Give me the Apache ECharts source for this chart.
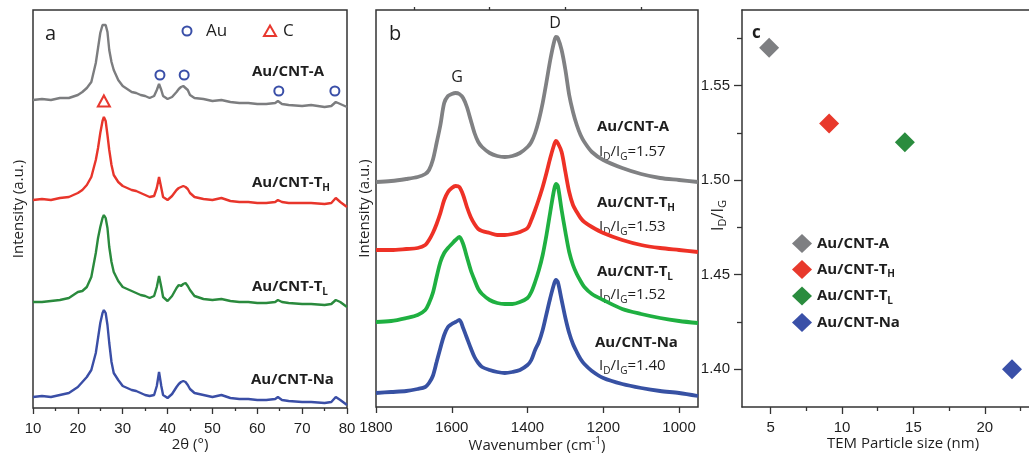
<!DOCTYPE html>
<html><head><meta charset="utf-8">
<script src="https://cdn.jsdelivr.net/npm/echarts@6/dist/echarts.min.js"></script>
<style>html,body{margin:0;padding:0;background:#fff;overflow:hidden}#c{width:1029px;height:456px}</style>
</head><body><div id="c"></div>
<script>
// ---------- data ----------
const sampleNames = ['Au/CNT-A', 'Au/CNT-TH', 'Au/CNT-TL', 'Au/CNT-Na'];
const sampleColorsXrd = ['#7c7d7f', '#e8352b', '#2a8a3d', '#3a4ea6'];
const sampleColorsRaman = ['#808183', '#ee3126', '#1fb041', '#3751a3'];
const sampleColorsScatter = ['#7e7f82', '#e8392c', '#2a8c3e', '#3a50a8'];

// panel a: XRD (2theta, offset intensities)
const xrdTheta = [10,12,14,16,18,20,21,22,23,24,24.5,25,25.5,25.8,26.2,26.6,27,27.5,28,29,30,31,32,33,34,35,36,37,37.6,38.1,38.6,39,40,41,42,42.5,43,43.5,44,44.5,45,46,48,50,52,54,56,58,60,62,64,64.6,65.5,67,70,72,75,76.5,77.5,78.5,80];
const xrdA  = [308,309,308,310,310,313,316,320,326,345,360,375,383,385,383,376,358,346,338,328,322,319,316,315,313,312,310,312,318,324,318,312,309,311,316,319,321,322,320,318,313,310,309,307,308,306,305,305,304,304,305,307,304,303,302,303,301,302,306,304,301];
const xrdTH = [208,209,208,210,211,215,218,223,231,248,260,275,287,291,287,273,258,243,233,226,222,220,218,217,215,213,211,212,220,231,220,211,208,212,218,220,221,222,221,219,215,211,209,208,210,207,206,206,205,205,206,208,206,205,205,205,204,205,210,206,201];
const xrdTL = [106,106,107,108,110,116,117,121,131,155,170,181,190,193,190,180,161,146,136,127,121,119,117,115,113,112,110,112,121,132,121,111,107,112,120,123,122,124,125,122,118,112,109,108,109,107,106,106,105,105,106,108,106,105,104,104,103,104,108,106,101];
const xrdNa = [11,12,11,13,15,21,26,31,38,55,70,85,95,98,95,83,65,46,35,28,22,20,18,17,15,13,12,13,22,36,22,13,10,14,21,24,26,27,26,23,19,15,13,11,13,10,9,9,8,8,9,11,8,7,6,6,5,6,11,8,3];
const auPeakTheta = [38.3, 43.7, 64.8, 77.3];
const auPeakMark = [333, 333, 317, 317];
const cPeakTheta = [25.8];
const cPeakMark = [307];

// panel b: Raman (wavenumber, offset intensities)
const ramanWn = [1800,1760,1720,1690,1670,1660,1650,1640,1630,1620,1610,1600,1590,1580,1570,1560,1550,1540,1530,1520,1500,1480,1460,1440,1420,1400,1390,1380,1370,1360,1350,1340,1330,1325,1320,1310,1300,1290,1280,1270,1260,1250,1230,1200,1150,1100,1050,1000,950];
const ramanA  = [225,226,228,230,233,237,247,264,282,304,311,313,314,313,309,300,287,274,265,260,254,251,250,251,254,260,265,274,287,304,325,347,365,370,369,357,337,312,295,282,272,265,255,247,239,233,229,227,225];
const ramanTH = [157,157,158,159,162,167,174,183,194,207,215,219,221,220,212,200,190,183,178,176,174,172,172,173,175,179,187,197,208,220,234,249,262,266,264,255,235,215,202,195,189,185,180,174,167,162,159,157,155];
const ramanTL = [85,86,89,92,97,104,114,130,145,154,159,163,167,170,163,150,137,127,118,113,107,104,103,103,105,109,115,125,137,152,172,195,217,223,221,197,175,155,142,133,126,120,113,107,98,93,89,86,84];
const ramanNa = [14,15,16,18,20,24,31,45,59,72,80,83,85,87,79,69,59,50,44,40,37,35,34,35,37,42,47,57,65,77,93,109,123,127,125,107,89,74,63,55,48,43,36,29,23,19,16,14,11];
const ratioLabels = ['1.57', '1.53', '1.52', '1.40'];
const ramanTicks = [1800, 1600, 1400, 1200, 1000];
const ramanMinorTicks = [1700, 1500, 1300, 1100];

// panel c: ID/IG vs TEM particle size
const particleSize = [4.9, 9.1, 14.4, 21.9];
const ratioIDIG = [1.57, 1.53, 1.52, 1.40];
const sizeTicks = [5, 10, 15, 20];
const sizeMinorTicks = [7.5, 12.5, 17.5, 22.5];
const ratioTicks = [1.40, 1.45, 1.50, 1.55];
const ratioMinorTicks = [1.425, 1.475, 1.525, 1.575];

// ---------- helpers ----------
const pair = (xs, ys) => xs.map((x, i) => [x, ys[i]]);
const FONT = '"Open Sans", "Liberation Sans", sans-serif';
const NUMFONT = '"Liberation Sans", Arial, sans-serif';
const INK = '#1e1e1e';
const AX = '#333';

function richName(name) {
  const m = name.match(/^(.*-T)([HL])$/);
  return m ? '{b|' + m[1] + '}{s|' + m[2] + '}' : '{b|' + name + '}';
}
const boldRich = {
  b: {fontFamily: FONT, fontWeight: 'bold', fontSize: 15, color: INK, fill: INK, lineHeight: 20},
  s: {fontFamily: FONT, fontWeight: 'bold', fontSize: 10, color: INK, fill: INK, lineHeight: 11, verticalAlign: 'bottom'}
};
const regRich = {
  n: {fontFamily: FONT, fontSize: 15, color: INK, fill: INK, lineHeight: 20},
  s: {fontFamily: FONT, fontSize: 10, color: INK, fill: INK, lineHeight: 11, verticalAlign: 'bottom'}
};
function textEl(x, y, text, rich) {
  return {type: 'text', x: x, y: y, silent: true,
    style: {text: text, rich: rich, align: 'left', verticalAlign: 'middle',
      textAlign: 'left', textVerticalAlign: 'middle', fill: INK}};
}
function plainText(x, y, text, font, align) {
  return {type: 'text', x: x, y: y, silent: true,
    style: {text: text, font: font, fill: INK, align: align || 'left', verticalAlign: 'middle',
      textAlign: align || 'left', textVerticalAlign: 'middle'}};
}

const tickLabel = {fontFamily: NUMFONT, fontSize: 15, color: INK};
const nameStyle = {fontFamily: FONT, fontSize: 15, color: INK};
const tickLine = {color: AX, width: 1.3};
const hidden = {axisLine: {show: false}, axisTick: {show: false}, axisLabel: {show: false}, splitLine: {show: false}};

// ---------- series ----------
const series = [];
[xrdA, xrdTH, xrdTL, xrdNa].forEach((ys, i) => series.push({
  name: 'XRD ' + sampleNames[i], type: 'line', xAxisIndex: 0, yAxisIndex: 0,
  data: pair(xrdTheta, ys), showSymbol: false, symbol: 'none',
  lineStyle: {color: sampleColorsXrd[i], width: 2.4}
}));
series.push({
  name: 'Au peaks', type: 'scatter', xAxisIndex: 0, yAxisIndex: 0,
  data: pair(auPeakTheta, auPeakMark), symbol: 'circle', symbolSize: 9,
  itemStyle: {color: 'rgba(0,0,0,0)', borderColor: '#3a4fa8', borderWidth: 2, opacity: 1}
});
series.push({
  name: 'C peak', type: 'scatter', xAxisIndex: 0, yAxisIndex: 0,
  data: pair(cPeakTheta, cPeakMark), symbol: 'triangle', symbolSize: [12, 11],
  itemStyle: {color: 'rgba(0,0,0,0)', borderColor: '#e8382f', borderWidth: 2, opacity: 1}
});
[ramanA, ramanTH, ramanTL, ramanNa].forEach((ys, i) => series.push({
  name: 'Raman ' + sampleNames[i], type: 'line', xAxisIndex: 1, yAxisIndex: 1,
  data: pair(ramanWn, ys), showSymbol: false, symbol: 'none', smooth: 0.3,
  lineStyle: {color: sampleColorsRaman[i], width: 3.8}
}));
sampleNames.forEach((n, i) => series.push({
  name: n, type: 'scatter', xAxisIndex: 3, yAxisIndex: 2,
  data: [[particleSize[i], ratioIDIG[i]]], symbol: 'diamond', symbolSize: 20,
  itemStyle: {color: sampleColorsScatter[i], opacity: 1}
}));

// ---------- annotations ----------
const graphics = [
  plainText(45, 34, 'a', '20px ' + FONT),
  {type: 'circle', shape: {cx: 187, cy: 31, r: 4.5}, silent: true,
   style: {fill: 'none', stroke: '#3a4fa8', lineWidth: 2}},
  plainText(206, 31, 'Au', '17px ' + FONT),
  {type: 'polygon', shape: {points: [[264, 36], [276, 36], [270, 25.5]]}, silent: true,
   style: {fill: 'none', stroke: '#e8382f', lineWidth: 2}},
  plainText(283, 31, 'C', '17px ' + FONT),
  plainText(389, 34, 'b', '20px ' + FONT),
  plainText(457, 77, 'G', '16px ' + FONT, 'center'),
  plainText(555, 23, 'D', '16px ' + FONT, 'center'),
  plainText(752, 33, 'c', 'bold 17px ' + FONT)
];
const xrdLabelPos = [[252, 72], [252, 183], [252, 287], [251, 380]];
sampleNames.forEach((n, i) => graphics.push(textEl(xrdLabelPos[i][0], xrdLabelPos[i][1], richName(n), boldRich)));
const ramanLabelPos = [[597, 127], [597, 203], [597, 272], [595, 343]];
const ratioLabelPos = [[599, 152], [599, 227], [599, 295], [599, 366]];
sampleNames.forEach((n, i) => {
  graphics.push(textEl(ramanLabelPos[i][0], ramanLabelPos[i][1], richName(n), boldRich));
  graphics.push(textEl(ratioLabelPos[i][0], ratioLabelPos[i][1],
    '{n|I}{s|D}{n|/I}{s|G}{n|=' + ratioLabels[i] + '}', regRich));
});

// ---------- option ----------
const framed = {show: true, borderColor: AX, borderWidth: 1.5, backgroundColor: 'transparent'};
const SIZE_MAX = 24;
const gridC = {left: 742, top: 10, width: 300, height: 397, show: false, outerBoundsMode: 'none'};
const option = {
  animation: false,
  backgroundColor: '#fff',
  textStyle: {fontFamily: FONT},
  grid: [
    Object.assign({left: 33, top: 10, width: 314, height: 398, outerBoundsMode: 'none'}, framed),
    Object.assign({left: 376, top: 10, width: 322, height: 397, outerBoundsMode: 'none'}, framed),
    Object.assign({}, gridC),
    Object.assign({}, gridC)
  ],
  xAxis: [
    {type: 'value', gridIndex: 0, min: 10, max: 80, interval: 10,
     axisLine: {show: false}, splitLine: {show: false},
     axisTick: {show: true, length: 6, lineStyle: tickLine},
     minorTick: {show: true, splitNumber: 2, length: 3, lineStyle: tickLine},
     axisLabel: Object.assign({margin: 13}, tickLabel),
     name: '2θ (°)', nameLocation: 'middle', nameGap: 29, nameMoveOverlap: false, nameTextStyle: nameStyle},
    {type: 'value', gridIndex: 1, min: 950, max: 1800, inverse: true,
     axisLine: {show: false}, splitLine: {show: false},
     axisTick: {show: true, length: 6, customValues: ramanTicks, lineStyle: tickLine},
     axisLabel: Object.assign({margin: 13, customValues: ramanTicks, formatter: v => String(v)}, tickLabel),
     name: '{n|Wavenumber (cm}{sup|-1}{n|)}', nameLocation: 'middle', nameGap: 29, nameMoveOverlap: false,
     nameTextStyle: {rich: {
       n: {fontFamily: FONT, fontSize: 15, color: INK, lineHeight: 20},
       sup: {fontFamily: FONT, fontSize: 10, color: INK, lineHeight: 10, verticalAlign: 'top'}}}},
    {type: 'value', gridIndex: 1, min: 950, max: 1800, inverse: true,
     axisLine: {show: false}, splitLine: {show: false}, axisLabel: {show: false},
     axisTick: {show: true, length: 3, customValues: ramanMinorTicks, lineStyle: tickLine}},
    {type: 'value', gridIndex: 2, min: 3, max: SIZE_MAX, position: 'bottom',
     axisLine: {show: true, lineStyle: {color: AX, width: 1.5}}, splitLine: {show: false},
     axisTick: {show: true, length: 7, customValues: sizeTicks, lineStyle: tickLine},
     axisLabel: Object.assign({margin: 13, customValues: sizeTicks}, tickLabel),
     name: 'TEM Particle size (nm)', nameLocation: 'middle', nameGap: 29, nameMoveOverlap: false,
     nameTextStyle: Object.assign({padding: [0, 0, 0, 22]}, nameStyle)},
    {type: 'value', gridIndex: 3, min: 3, max: SIZE_MAX, position: 'bottom',
     axisLine: {show: false}, splitLine: {show: false}, axisLabel: {show: false},
     axisTick: {show: true, length: 4, customValues: sizeMinorTicks, lineStyle: tickLine}},
    {type: 'value', gridIndex: 3, min: 3, max: SIZE_MAX, position: 'top',
     axisLine: {show: true, lineStyle: {color: AX, width: 1.5}}, splitLine: {show: false},
     axisLabel: {show: false}, axisTick: {show: false}}
  ],
  yAxis: [
    Object.assign({type: 'value', gridIndex: 0, min: 0, max: 398,
     name: 'Intensity (a.u.)', nameLocation: 'middle', nameGap: 7, nameMoveOverlap: false, nameTextStyle: nameStyle}, hidden),
    Object.assign({type: 'value', gridIndex: 1, min: 0, max: 397,
     name: 'Intensity (a.u.)', nameLocation: 'middle', nameGap: 4, nameMoveOverlap: false, nameTextStyle: nameStyle}, hidden),
    {type: 'value', gridIndex: 2, min: 1.38, max: 1.59, position: 'left',
     axisLine: {show: true, lineStyle: {color: AX, width: 1.5}}, splitLine: {show: false},
     axisTick: {show: true, length: 8, customValues: ratioTicks, lineStyle: tickLine},
     axisLabel: Object.assign({margin: 12, customValues: ratioTicks, formatter: v => Number(v).toFixed(2)}, tickLabel),
     name: '{n|I}{s|D}{n|/I}{s|G}', nameLocation: 'middle', nameGap: 14, nameMoveOverlap: false,
     nameTextStyle: {padding: [0, 14, 0, 0], rich: {
       n: {fontFamily: FONT, fontSize: 16, color: INK, lineHeight: 20},
       s: {fontFamily: FONT, fontSize: 11, color: INK, lineHeight: 11, verticalAlign: 'bottom'}}}},
    {type: 'value', gridIndex: 3, min: 1.38, max: 1.59, position: 'left',
     axisLine: {show: false}, splitLine: {show: false}, axisLabel: {show: false},
     axisTick: {show: true, length: 5, customValues: ratioMinorTicks, lineStyle: tickLine}}
  ],
  legend: {
    show: true, orient: 'vertical', left: 792, top: 234,
    data: sampleNames.map(n => ({name: n, icon: 'diamond'})),
    itemWidth: 20, itemHeight: 19, itemGap: 7, padding: 0,
    formatter: richName, selectedMode: false,
    textStyle: {rich: boldRich}
  },
  graphic: graphics,
  series: series
};
const chart = echarts.init(document.getElementById('c'));
chart.setOption(option);
</script>
</body></html>
